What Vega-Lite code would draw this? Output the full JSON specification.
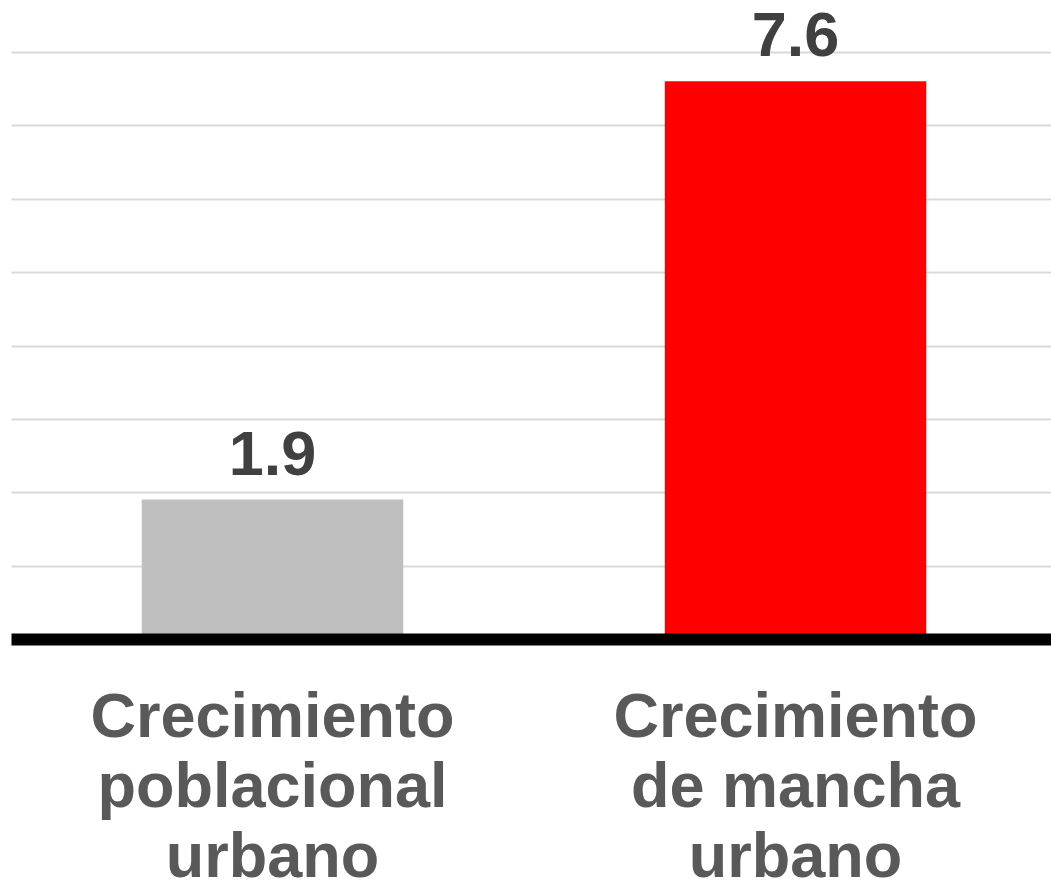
{
  "$schema": "https://vega.github.io/schema/vega-lite/v6.json",
  "width": 1040,
  "height": 587,
  "autosize": {"type": "none"},
  "padding": {"left": 11, "top": 52, "right": 0, "bottom": 246},
  "background": "white",
  "data": {
    "values": [
      {"categoria": "Crecimiento poblacional urbano", "valor": 1.9},
      {"categoria": "Crecimiento de mancha urbano", "valor": 7.6}
    ]
  },
  "config": {
    "view": {"stroke": null},
    "font": "Liberation Sans"
  },
  "encoding": {
    "x": {
      "field": "categoria",
      "type": "nominal",
      "sort": null,
      "scale": {"paddingInner": 0.5, "paddingOuter": 0.25, "range": [0, 1046]},
      "axis": {
        "title": null,
        "zindex": 1,
        "labelAngle": 0,
        "ticks": false,
        "domainColor": "#000000",
        "domainWidth": 12,
        "labelFont": "Liberation Sans",
        "labelFontSize": 63,
        "labelFontWeight": "bold",
        "labelColor": "#595959",
        "labelLineHeight": 70,
        "labelPadding": 47,
        "labelBaseline": "top",
        "labelLimit": 0,
        "labelExpr": "datum.value == 'Crecimiento poblacional urbano' ? ['Crecimiento', 'poblacional', 'urbano'] : ['Crecimiento', 'de mancha', 'urbano']"
      }
    },
    "y": {
      "field": "valor",
      "type": "quantitative",
      "scale": {"domain": [0, 8], "nice": false},
      "axis": {
        "title": null,
        "labels": false,
        "ticks": false,
        "domain": false,
        "values": [1, 2, 3, 4, 5, 6, 7, 8],
        "gridColor": "#d9d9d9",
        "gridWidth": 2
      }
    }
  },
  "layer": [
    {
      "mark": {"type": "bar"},
      "encoding": {
        "color": {
          "field": "categoria",
          "type": "nominal",
          "scale": {
            "domain": ["Crecimiento poblacional urbano", "Crecimiento de mancha urbano"],
            "range": ["#bfbfbf", "#ff0000"]
          },
          "legend": null
        }
      }
    },
    {
      "mark": {
        "type": "text",
        "baseline": "alphabetic",
        "dy": -25,
        "fontSize": 63,
        "fontWeight": "bold",
        "color": "#404040",
        "font": "Liberation Sans"
      },
      "encoding": {
        "text": {"field": "valor", "type": "quantitative", "format": ".1f"}
      }
    }
  ]
}
